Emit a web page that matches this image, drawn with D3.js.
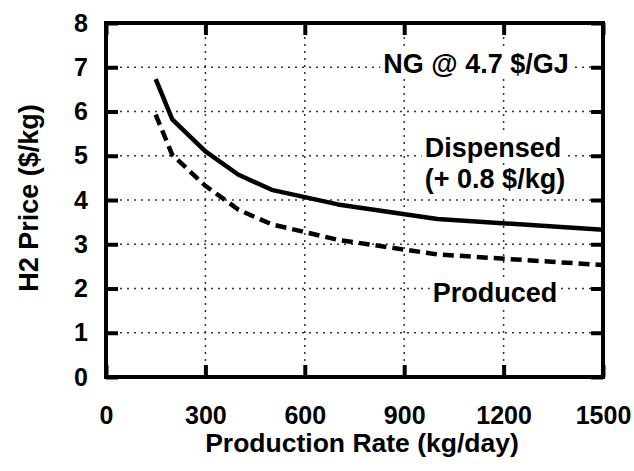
<!DOCTYPE html>
<html>
<head>
<meta charset="utf-8">
<script src="https://cdn.jsdelivr.net/npm/d3@7"></script>
<style>
  body { margin: 0; background: #fff; }
  svg text { font-family: "Liberation Sans", Arial, sans-serif; font-weight: bold; fill: #000; }
</style>
</head>
<body>
<div id="chart"></div>
<script>
// datos
var rates = [150, 200, 300, 400, 500, 700, 1000, 1500];
var dispensed = [6.73, 5.82, 5.1, 4.57, 4.23, 3.9, 3.57, 3.33];
var produced = [5.93, 5.02, 4.32, 3.78, 3.45, 3.1, 2.77, 2.53];

var xTicks = [0, 300, 600, 900, 1200, 1500];
var yTicks = [0, 1, 2, 3, 4, 5, 6, 7, 8];

var width = 634;
var height = 471;
var margin = { top: 23, right: 31, bottom: 94, left: 106 };
var w = width - margin.left - margin.right;
var h = height - margin.top - margin.bottom;

var svg = d3.select("#chart").append("svg")
    .attr("width", width)
    .attr("height", height);

var g = svg.append("g")
    .attr("transform", "translate(" + margin.left + "," + margin.top + ")");

var x = d3.scaleLinear().domain([0, 1500]).range([0, w]);
var y = d3.scaleLinear().domain([0, 8]).range([h, 0]);

// rejilla punteada
g.selectAll(".vgrid")
    .data(xTicks.slice(1, -1))
    .enter().append("line")
    .attr("x1", d => x(d)).attr("x2", d => x(d))
    .attr("y1", 0).attr("y2", h)
    .attr("stroke", "#333").attr("stroke-width", 1.5)
    .attr("stroke-dasharray", "2,5");

g.selectAll(".hgrid")
    .data(yTicks.slice(1, -1))
    .enter().append("line")
    .attr("x1", 0).attr("x2", w)
    .attr("y1", d => y(d)).attr("y2", d => y(d))
    .attr("stroke", "#333").attr("stroke-width", 1.5)
    .attr("stroke-dasharray", "2,5");

// curvas
var pts = rates.map((r, i) => ({ r: r, d: dispensed[i], p: produced[i] }));

var lineD = d3.line().x(d => x(d.r)).y(d => y(d.d));
var lineP = d3.line().x(d => x(d.r)).y(d => y(d.p));

g.append("path")
    .datum(pts)
    .attr("d", lineD)
    .attr("fill", "none")
    .attr("stroke", "#000")
    .attr("stroke-width", 4.5)
    .attr("stroke-linejoin", "round");

g.append("path")
    .datum(pts)
    .attr("d", lineP)
    .attr("fill", "none")
    .attr("stroke", "#000")
    .attr("stroke-width", 4.5)
    .attr("stroke-dasharray", "11,6");

// etiquetas con fondo blanco
function label(txt, cx, baseline) {
    var t = svg.append("text")
        .attr("x", cx)
        .attr("y", baseline)
        .attr("text-anchor", "middle")
        .style("font-size", "27px")
        .text(txt);
    var b = t.node().getBBox();
    svg.insert("rect", function() { return t.node(); })
        .attr("x", b.x - 3).attr("y", b.y + 2)
        .attr("width", b.width + 6).attr("height", b.height - 2)
        .attr("fill", "#fff");
}

label("NG @ 4.7 $/GJ", 476, 73);
label("Dispensed", 493, 157);
label("(+ 0.8 $/kg)", 495, 188);
label("Produced", 495, 302);

// ejes
var xAxis = d3.axisBottom(x).tickValues(xTicks).tickSize(-12).tickPadding(29).tickFormat(d3.format("d"));
var yAxis = d3.axisLeft(y).tickValues(yTicks).tickSize(-12).tickPadding(18);

var gx = g.append("g")
    .attr("transform", "translate(0," + h + ")")
    .call(xAxis);
var gy = g.append("g").call(yAxis);

var gxTop = g.append("g")
    .call(d3.axisTop(x).tickValues(xTicks).tickSize(-12).tickFormat(""));
var gyRight = g.append("g")
    .attr("transform", "translate(" + w + ",0)")
    .call(d3.axisRight(y).tickValues(yTicks).tickSize(-12).tickFormat(""));

[gx, gy, gxTop, gyRight].forEach(a => {
    a.attr("font-size", null).attr("font-family", null);
    a.select(".domain").remove();
    a.selectAll(".tick line").attr("stroke", "#000").attr("stroke-width", 4);
    a.selectAll("text").style("font-size", "25px");
});

// marco
g.append("rect")
    .attr("x", 0).attr("y", 0)
    .attr("width", w).attr("height", h)
    .attr("fill", "none")
    .attr("stroke", "#000")
    .attr("stroke-width", 4);

// titulos de ejes
svg.append("text")
    .attr("x", 362)
    .attr("y", 452)
    .attr("text-anchor", "middle")
    .style("font-size", "26.5px")
    .text("Production Rate (kg/day)");

svg.append("text")
    .attr("transform", "translate(38,198) rotate(-90)")
    .attr("text-anchor", "middle")
    .style("font-size", "27px")
    .text("H2 Price ($/kg)");
</script>
</body>
</html>
